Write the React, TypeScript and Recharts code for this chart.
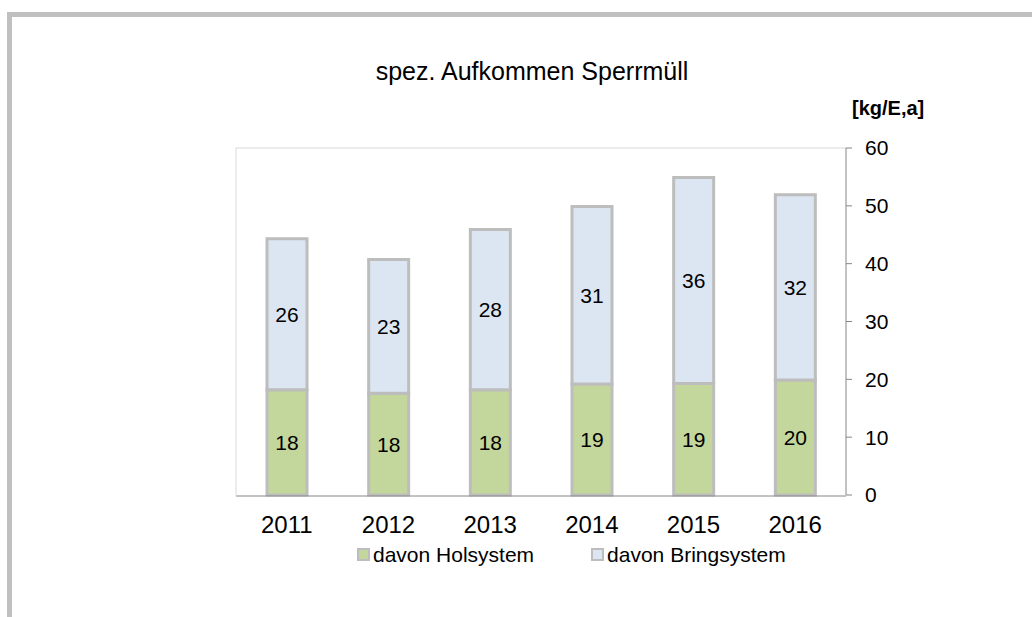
import React from 'react';
import { BarChart, Bar, XAxis, YAxis, LabelList, Legend } from 'recharts';

const years = ['2011', '2012', '2013', '2014', '2015', '2016'];
const holsystem = [18.2, 17.6, 18.2, 19.2, 19.3, 19.9];
const bringsystem = [26.1, 23.1, 27.7, 30.7, 35.6, 32.0];
const yTicks = [0, 10, 20, 30, 40, 50, 60];
const edgeTicks = [0, 1, 2, 3, 4, 5, 6];
const seriesNames = ['davon Holsystem', 'davon Bringsystem'];
const seriesColors = ['#c3d69b', '#dce6f2'];
const title = 'spez. Aufkommen Sperrmüll';
const unitLabel = '[kg/E,a]';

const FONT = '"Liberation Sans", Arial, sans-serif';
const BAR_STROKE = '#bdbdbd';
const AXIS = '#868686';

const data = years.map((year, i) => ({
  year,
  idx: i + 0.5,
  hol: holsystem[i],
  bring: bringsystem[i],
}));

const LegendContent = () => (
  <div
    style={{
      display: 'flex',
      alignItems: 'center',
      fontFamily: FONT,
      fontSize: 21,
      lineHeight: '21px',
      color: '#000',
      whiteSpace: 'nowrap',
    }}
  >
    {seriesNames.map((name, i) => (
      <div key={name} style={{ display: 'flex', alignItems: 'center', marginLeft: i ? 57 : 0 }}>
        <span
          style={{
            display: 'inline-block',
            width: 13,
            height: 13,
            boxSizing: 'border-box',
            border: `2px solid ${BAR_STROKE}`,
            background: seriesColors[i],
            marginRight: 3,
          }}
        />
        <span>{name}</span>
      </div>
    ))}
  </div>
);

const fmt = (v: any) => Math.round(Number(v));

export default function App() {
  return (
    <div style={{ position: 'absolute', left: 0, top: 0, width: 1032, height: 617, background: '#fff' }}>
      <BarChart
        width={1032}
        height={617}
        data={data}
        margin={{ top: 147, right: 185, bottom: 120, left: 235 }}
        barSize={40}
      >
        <XAxis
          xAxisId="main"
          dataKey="year"
          type="category"
          height={1}
          axisLine={{ stroke: AXIS, strokeWidth: 1 }}
          tickLine={false}
          tickSize={0}
          tickMargin={20}
          tick={{ fill: '#000', fontSize: 24, fontFamily: FONT }}
          interval={0}
        />
        <XAxis
          xAxisId="edges"
          dataKey="idx"
          type="number"
          domain={[0, 6]}
          ticks={edgeTicks}
          allowDataOverflow
          height={1}
          axisLine={false}
          tick={false}
          tickLine={{ stroke: AXIS }}
          tickSize={5}
        />
        <XAxis
          xAxisId="top"
          dataKey="year"
          orientation="top"
          height={1}
          axisLine={{ stroke: '#d9d9d9' }}
          tick={false}
          tickLine={false}
        />
        <YAxis
          yAxisId="main"
          orientation="right"
          domain={[0, 60]}
          ticks={yTicks}
          width={1}
          axisLine={{ stroke: AXIS }}
          tickLine={{ stroke: AXIS }}
          tickSize={6}
          tickMargin={13}
          tick={{ fill: '#000', fontSize: 21, fontFamily: FONT, textAnchor: 'start' }}
          interval={0}
        />
        <YAxis
          yAxisId="border"
          orientation="left"
          domain={[0, 60]}
          width={1}
          axisLine={{ stroke: '#d9d9d9' }}
          tick={false}
          tickLine={false}
        />
        <Legend
          layout="horizontal"
          verticalAlign="middle"
          align="center"
          content={<LegendContent />}
          wrapperStyle={{ position: 'absolute', top: 544, left: 357, width: 'auto' }}
        />
        <Bar
          dataKey="hol"
          name={seriesNames[0]}
          stackId="a"
          xAxisId="main"
          yAxisId="main"
          fill={seriesColors[0]}
          stroke={BAR_STROKE}
          strokeWidth={3}
          isAnimationActive={false}
        >
          <LabelList dataKey="hol" position="center" formatter={fmt} fill="#000" fontSize={21} fontFamily={FONT} />
        </Bar>
        <Bar
          dataKey="bring"
          name={seriesNames[1]}
          stackId="a"
          xAxisId="main"
          yAxisId="main"
          fill={seriesColors[1]}
          stroke={BAR_STROKE}
          strokeWidth={3}
          isAnimationActive={false}
        >
          <LabelList dataKey="bring" position="center" formatter={fmt} fill="#000" fontSize={21} fontFamily={FONT} />
        </Bar>
      </BarChart>
      <svg
        width={1032}
        height={617}
        style={{ position: 'absolute', left: 0, top: 0, pointerEvents: 'none' }}
      >
        <rect x={9} y={12} width={1023} height={5} fill="#c0c0c0" />
        <rect x={7} y={12} width={5} height={605} fill="#c0c0c0" />
        <text x={532} y={80} textAnchor="middle" fontSize={25} fontFamily={FONT} fill="#000">
          {title}
        </text>
        <text x={852} y={115} fontSize={20} fontWeight="bold" fontFamily={FONT} fill="#000">
          {unitLabel}
        </text>
      </svg>
    </div>
  );
}
